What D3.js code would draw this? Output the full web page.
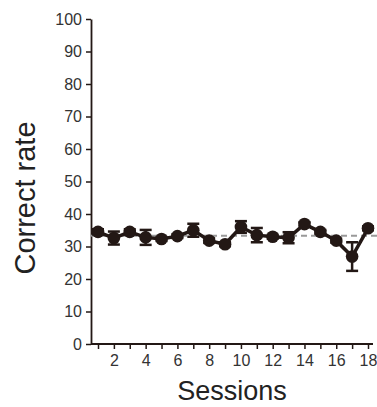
<!DOCTYPE html>
<html><head><meta charset="utf-8">
<script src="https://cdn.jsdelivr.net/npm/d3@7"></script>
<style>body{margin:0;background:#fff}svg{display:block}</style>
</head><body>
<script>
const sessions = [1,2,3,4,5,6,7,8,9,10,11,12,13,14,15,16,17,18];
const means = [34.5,32.6,34.5,32.8,32.3,33.2,35.0,31.8,30.7,36.0,33.5,33.0,32.7,36.9,34.5,31.8,26.9,35.6];
const errs  = [0.8,2.0,0.8,2.3,0.6,0.6,2.0,0.7,0.6,1.8,2.2,0.6,1.7,0.6,0.6,0.6,4.4,0.6];
const yTicks = [0,10,20,30,40,50,60,70,80,90,100];
const xTickLabels = [2,4,6,8,10,12,14,16,18];
const chance = 33.3;

const W=377,H=407, col="#231815";
const svg=d3.select("body").append("svg").attr("width",W).attr("height",H);
const x=d3.scaleLinear().domain([1,18]).range([98,368]);
const y=d3.scaleLinear().domain([0,100]).range([344,19]);
const font="Arial, 'Liberation Sans', sans-serif";

// y axis
const ya=svg.append("g").attr("transform","translate(91,0)")
  .call(d3.axisLeft(y).tickValues(yTicks).tickSize(5).tickPadding(4).tickSizeOuter(0));
ya.select(".domain").attr("stroke",col).attr("stroke-width",1.8);
ya.selectAll(".tick line").attr("stroke",col).attr("stroke-width",1.5);
ya.selectAll(".tick text").attr("fill","#333").style("font-family",font).style("font-size","16px");

// x axis
const xa=svg.append("g").attr("transform","translate(0,344)")
  .call(d3.axisBottom(x).tickValues(sessions).tickSize(5).tickPadding(6)
    .tickFormat(d=>xTickLabels.includes(d)?d:""));
xa.select(".domain").attr("d","M91,0H373").attr("stroke",col).attr("stroke-width",1.8);
xa.selectAll(".tick line").attr("stroke",col).attr("stroke-width",1.5);
xa.selectAll(".tick text").attr("fill","#333").style("font-family",font).style("font-size","16px");

// chance line
svg.append("line").attr("x1",91).attr("x2",377).attr("y1",y(chance)).attr("y2",y(chance))
  .attr("stroke","#999").attr("stroke-width",2).attr("stroke-dasharray","6,4");

// line
svg.append("path").datum(sessions.map((s,i)=>[s,means[i]]))
  .attr("d",d3.line().x(d=>x(d[0])).y(d=>y(d[1])))
  .attr("fill","none").attr("stroke",col).attr("stroke-width",3.5);

// error bars
const eb=svg.append("g").attr("stroke",col).attr("stroke-width",2.5);
sessions.forEach((s,i)=>{
  const cx=x(s), t=y(means[i]+errs[i]), b=y(means[i]-errs[i]);
  eb.append("line").attr("x1",cx).attr("x2",cx).attr("y1",t).attr("y2",b);
  eb.append("line").attr("x1",cx-6).attr("x2",cx+6).attr("y1",t).attr("y2",t);
  eb.append("line").attr("x1",cx-6).attr("x2",cx+6).attr("y1",b).attr("y2",b);
});

// points
svg.append("g").selectAll("circle").data(sessions).join("circle")
  .attr("cx",d=>x(d)).attr("cy",(d,i)=>y(means[i])).attr("r",6.3).attr("fill",col);

// titles
svg.append("text").attr("transform","translate(35,198) rotate(-90)").attr("text-anchor","middle")
  .style("font-family",font).style("font-size","29px").attr("fill","#222").text("Correct rate");
svg.append("text").attr("x",232).attr("y",400).attr("text-anchor","middle")
  .style("font-family",font).style("font-size","27px").attr("fill","#222").text("Sessions");
</script>
</body></html>
